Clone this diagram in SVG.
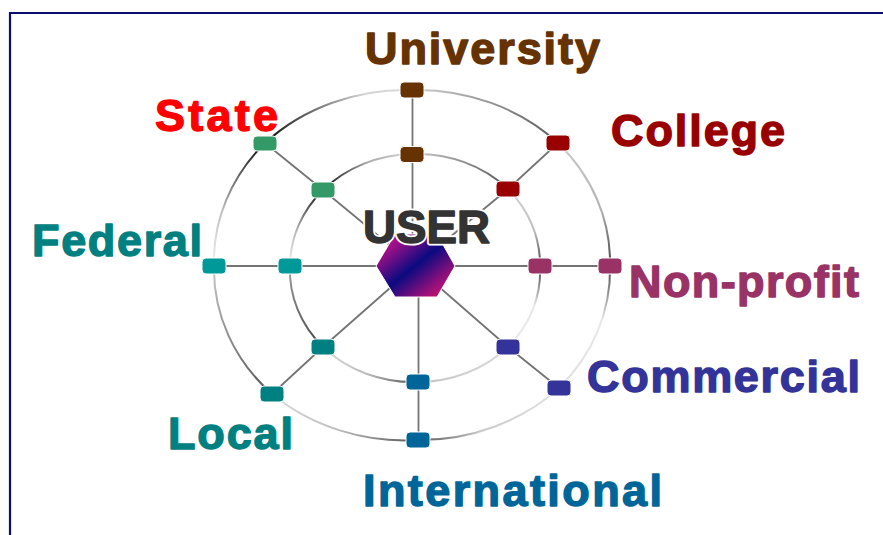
<svg xmlns="http://www.w3.org/2000/svg" width="883" height="535" viewBox="0 0 883 535">
  <style>
    .frame { stroke: #0c0c72; stroke-width: 2.2; fill: none; }
    .spoke { stroke: #747474; stroke-width: 1.8; fill: none; }
    .ring { stroke-width: 2; fill: none; }
    .node rect { stroke: #ffffff; stroke-width: 1; }
    .label { font-family: "Liberation Sans", Arial, sans-serif; font-weight: bold; font-size: 45px; stroke-width: 1.4; stroke-linejoin: round; }
    .hub-halo { font-family: "Liberation Sans", Arial, sans-serif; font-weight: bold; font-size: 46px; fill: #ffffff; stroke: #ffffff; stroke-width: 5; stroke-linejoin: round; }
    .hub-text { font-family: "Liberation Sans", Arial, sans-serif; font-weight: bold; font-size: 46px; fill: #333333; stroke: #333333; stroke-width: 1.4; stroke-linejoin: round; }
  </style>
  <defs>
    <linearGradient id="hubFill" x1="0" y1="0" x2="1" y2="1">
      <stop offset="0" stop-color="#c8108a"/>
      <stop offset="0.2" stop-color="#a01088"/>
      <stop offset="0.5" stop-color="#0a0a80"/>
      <stop offset="0.8" stop-color="#a0107a"/>
      <stop offset="1" stop-color="#ee1048"/>
    </linearGradient>
    <!-- outer ring segment shading -->
    <linearGradient id="oUC" gradientUnits="userSpaceOnUse" x1="412" y1="90" x2="558" y2="143"><stop offset="0" stop-color="#d0d0d0"/><stop offset="1" stop-color="#5a5a5a"/></linearGradient>
    <linearGradient id="oCN" gradientUnits="userSpaceOnUse" x1="558" y1="143" x2="610" y2="266"><stop offset="0" stop-color="#cccccc"/><stop offset="0.6" stop-color="#b0b0b0"/><stop offset="1" stop-color="#444444"/></linearGradient>
    <linearGradient id="oNM" gradientUnits="userSpaceOnUse" x1="610" y1="266" x2="559" y2="388"><stop offset="0" stop-color="#444444"/><stop offset="0.4" stop-color="#e8e8e8"/><stop offset="1" stop-color="#dddddd"/></linearGradient>
    <linearGradient id="oMI" gradientUnits="userSpaceOnUse" x1="559" y1="388" x2="418" y2="440"><stop offset="0" stop-color="#e4e4e4"/><stop offset="0.6" stop-color="#c8c8c8"/><stop offset="1" stop-color="#555555"/></linearGradient>
    <linearGradient id="oIL" gradientUnits="userSpaceOnUse" x1="418" y1="440" x2="272" y2="394"><stop offset="0" stop-color="#555555"/><stop offset="0.5" stop-color="#bbbbbb"/><stop offset="1" stop-color="#dddddd"/></linearGradient>
    <linearGradient id="oLF" gradientUnits="userSpaceOnUse" x1="272" y1="394" x2="214" y2="266"><stop offset="0" stop-color="#555555"/><stop offset="1" stop-color="#c8c8c8"/></linearGradient>
    <linearGradient id="oFS" gradientUnits="userSpaceOnUse" x1="214" y1="266" x2="265" y2="143"><stop offset="0" stop-color="#f0f0f0"/><stop offset="0.4" stop-color="#c0c0c0"/><stop offset="1" stop-color="#0a0a0a"/></linearGradient>
    <linearGradient id="oSU" gradientUnits="userSpaceOnUse" x1="265" y1="143" x2="412" y2="90"><stop offset="0" stop-color="#0a0a0a"/><stop offset="0.45" stop-color="#888888"/><stop offset="0.7" stop-color="#d4d4d4"/><stop offset="1" stop-color="#d8d8d8"/></linearGradient>
    <!-- inner ring segment shading -->
    <linearGradient id="iUC" gradientUnits="userSpaceOnUse" x1="412" y1="154" x2="508" y2="189"><stop offset="0" stop-color="#cccccc"/><stop offset="1" stop-color="#555555"/></linearGradient>
    <linearGradient id="iCN" gradientUnits="userSpaceOnUse" x1="508" y1="189" x2="540" y2="266"><stop offset="0" stop-color="#d4d4d4"/><stop offset="0.6" stop-color="#bbbbbb"/><stop offset="1" stop-color="#444444"/></linearGradient>
    <linearGradient id="iNM" gradientUnits="userSpaceOnUse" x1="540" y1="266" x2="508" y2="347"><stop offset="0" stop-color="#444444"/><stop offset="0.45" stop-color="#e8e8e8"/><stop offset="1" stop-color="#e8e8e8"/></linearGradient>
    <linearGradient id="iMI" gradientUnits="userSpaceOnUse" x1="508" y1="347" x2="418" y2="382"><stop offset="0" stop-color="#dcdcdc"/><stop offset="1" stop-color="#c4c4c4"/></linearGradient>
    <linearGradient id="iIL" gradientUnits="userSpaceOnUse" x1="418" y1="382" x2="323" y2="347"><stop offset="0" stop-color="#555555"/><stop offset="0.5" stop-color="#bbbbbb"/><stop offset="1" stop-color="#dddddd"/></linearGradient>
    <linearGradient id="iLF" gradientUnits="userSpaceOnUse" x1="323" y1="347" x2="290" y2="266"><stop offset="0" stop-color="#444444"/><stop offset="1" stop-color="#a0a0a0"/></linearGradient>
    <linearGradient id="iFS" gradientUnits="userSpaceOnUse" x1="290" y1="266" x2="323" y2="190"><stop offset="0" stop-color="#eeeeee"/><stop offset="0.4" stop-color="#bbbbbb"/><stop offset="1" stop-color="#0a0a0a"/></linearGradient>
    <linearGradient id="iSU" gradientUnits="userSpaceOnUse" x1="323" y1="190" x2="412" y2="154"><stop offset="0" stop-color="#0a0a0a"/><stop offset="0.55" stop-color="#aaaaaa"/><stop offset="1" stop-color="#d8d8d8"/></linearGradient>
  </defs>

  <rect width="883" height="535" fill="#ffffff"/>

  <!-- page frame (top and left edges) -->
  <path class="frame" d="M10 535 V13 H883"/>

  <g id="connectors">
    <!-- outer ring -->
    <path class="ring" stroke="url(#oUC)" d="M412 90 A197 176 0 0 1 558 143"/>
    <path class="ring" stroke="url(#oCN)" d="M558 143 A197 176 0 0 1 610 266"/>
    <path class="ring" stroke="url(#oNM)" d="M610 266 A197 176 0 0 1 559 388"/>
    <path class="ring" stroke="url(#oMI)" d="M559 388 A197 176 0 0 1 418 440"/>
    <path class="ring" stroke="url(#oIL)" d="M418 440 A197 176 0 0 1 272 394"/>
    <path class="ring" stroke="url(#oLF)" d="M272 394 A197 176 0 0 1 214 266"/>
    <path class="ring" stroke="url(#oFS)" d="M214 266 A197 176 0 0 1 265 143"/>
    <path class="ring" stroke="url(#oSU)" d="M265 143 A197 176 0 0 1 412 90"/>
    <!-- inner ring -->
    <path class="ring" stroke="url(#iUC)" d="M412 154 A125 113 0 0 1 508 189"/>
    <path class="ring" stroke="url(#iCN)" d="M508 189 A125 113 0 0 1 540 266"/>
    <path class="ring" stroke="url(#iNM)" d="M540 266 A125 113 0 0 1 508 347"/>
    <path class="ring" stroke="url(#iMI)" d="M508 347 A125 113 0 0 1 418 382"/>
    <path class="ring" stroke="url(#iIL)" d="M418 382 A125 113 0 0 1 323 347"/>
    <path class="ring" stroke="url(#iLF)" d="M323 347 A125 113 0 0 1 290 266"/>
    <path class="ring" stroke="url(#iFS)" d="M290 266 A125 113 0 0 1 323 190"/>
    <path class="ring" stroke="url(#iSU)" d="M323 190 A125 113 0 0 1 412 154"/>
    <!-- spokes from the hub -->
    <path class="spoke" d="M412.5 90 V245"/>
    <path class="spoke" d="M558 143 L508 189 L415 266"/>
    <path class="spoke" d="M610 266 H415"/>
    <path class="spoke" d="M559 388 L508 347 L415 266"/>
    <path class="spoke" d="M418.5 440 V285"/>
    <path class="spoke" d="M272 394 L323 347 L415 266"/>
    <path class="spoke" d="M214 266 H415"/>
    <path class="spoke" d="M265 143 L323 190 L415 266"/>
  </g>

  <g id="hub">
    <polygon points="376,266 395,234 437,234 455,266 437,297 395,297" fill="url(#hubFill)" stroke="#ffffff" stroke-width="1"/>
    <text class="hub-halo" x="363" y="243" textLength="127" lengthAdjust="spacingAndGlyphs">USER</text>
    <text class="hub-text" x="363" y="243" textLength="127" lengthAdjust="spacingAndGlyphs">USER</text>
  </g>

  <g id="university" class="node">
    <rect x="400" y="82" width="24" height="16" rx="4" fill="#663300"/>
    <rect x="400" y="146.5" width="24" height="16" rx="4" fill="#663300"/>
    <text class="label" fill="#663300" stroke="#663300" x="365" y="64" textLength="235" lengthAdjust="spacing">University</text>
  </g>
  <g id="college" class="node">
    <rect x="546" y="135" width="24" height="16" rx="4" fill="#990000"/>
    <rect x="496" y="181" width="24" height="16" rx="4" fill="#990000"/>
    <text class="label" fill="#990000" stroke="#990000" x="611" y="146" textLength="174" lengthAdjust="spacing">College</text>
  </g>
  <g id="non-profit" class="node">
    <rect x="598" y="258" width="24" height="16" rx="4" fill="#993366"/>
    <rect x="528" y="258" width="24" height="16" rx="4" fill="#993366"/>
    <text class="label" fill="#993366" stroke="#993366" x="629" y="297" textLength="230" lengthAdjust="spacing">Non-profit</text>
  </g>
  <g id="commercial" class="node">
    <rect x="547" y="380" width="24" height="16" rx="4" fill="#333399"/>
    <rect x="496" y="339" width="24" height="16" rx="4" fill="#333399"/>
    <text class="label" fill="#333399" stroke="#333399" x="587" y="392" textLength="273" lengthAdjust="spacing">Commercial</text>
  </g>
  <g id="international" class="node">
    <rect x="406" y="432" width="24" height="16" rx="4" fill="#006699"/>
    <rect x="406" y="374" width="24" height="16" rx="4" fill="#006699"/>
    <text class="label" fill="#006699" stroke="#006699" x="363" y="506" textLength="299" lengthAdjust="spacing">International</text>
  </g>
  <g id="local" class="node">
    <rect x="260" y="386" width="24" height="16" rx="4" fill="#008080"/>
    <rect x="311" y="339" width="24" height="16" rx="4" fill="#008080"/>
    <text class="label" fill="#008080" stroke="#008080" x="168" y="449" textLength="125" lengthAdjust="spacing">Local</text>
  </g>
  <g id="federal" class="node">
    <rect x="202" y="258" width="24" height="16" rx="4" fill="#009999"/>
    <rect x="278" y="258" width="24" height="16" rx="4" fill="#009999"/>
    <text class="label" fill="#008080" stroke="#008080" x="32" y="256" textLength="170" lengthAdjust="spacing">Federal</text>
  </g>
  <g id="state" class="node">
    <rect x="253" y="136" width="24" height="15" rx="4" fill="#339966"/>
    <rect x="311" y="182" width="24" height="16" rx="4" fill="#339966"/>
    <text class="label" fill="#ff0000" stroke="#ff0000" x="155" y="131" textLength="123" lengthAdjust="spacing">State</text>
  </g>
</svg>
